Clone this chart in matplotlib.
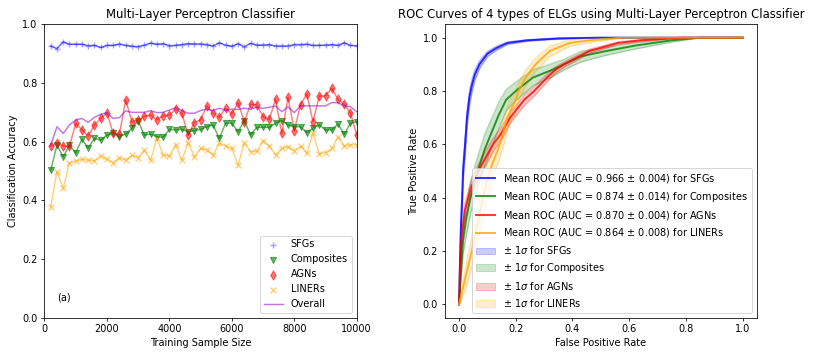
import numpy as np
import matplotlib
matplotlib.use('Agg')
import matplotlib.pyplot as plt

# training sample sizes
sizes = list(range(200, 10001, 200))

sfg_acc = [0.926, 0.917, 0.940, 0.932, 0.932, 0.932, 0.927, 0.928, 0.921, 0.928,
           0.928, 0.933, 0.928, 0.925, 0.924, 0.929, 0.936, 0.932, 0.934, 0.927,
           0.928, 0.931, 0.934, 0.933, 0.933, 0.931, 0.926, 0.937, 0.929, 0.925,
           0.934, 0.923, 0.935, 0.929, 0.929, 0.931, 0.926, 0.926, 0.926, 0.931,
           0.931, 0.932, 0.928, 0.928, 0.929, 0.931, 0.928, 0.937, 0.928, 0.927]
comp_acc = [0.503, 0.588, 0.549, 0.588, 0.562, 0.608, 0.579, 0.611, 0.605, 0.622,
            0.628, 0.617, 0.626, 0.645, 0.671, 0.622, 0.626, 0.617, 0.615, 0.642,
            0.640, 0.642, 0.634, 0.638, 0.642, 0.651, 0.657, 0.611, 0.663, 0.663,
            0.634, 0.672, 0.623, 0.649, 0.649, 0.649, 0.663, 0.672, 0.657, 0.651,
            0.651, 0.631, 0.646, 0.657, 0.640, 0.640, 0.660, 0.626, 0.663, 0.668]
agn_acc = [0.585, 0.594, 0.585, 0.585, 0.662, 0.640, 0.619, 0.657, 0.679, 0.699,
           0.628, 0.626, 0.742, 0.668, 0.674, 0.686, 0.691, 0.674, 0.688, 0.691,
           0.710, 0.697, 0.623, 0.665, 0.674, 0.722, 0.697, 0.683, 0.714, 0.694,
           0.733, 0.668, 0.728, 0.725, 0.685, 0.676, 0.744, 0.628, 0.751, 0.638,
           0.725, 0.763, 0.668, 0.756, 0.756, 0.782, 0.744, 0.728, 0.697, 0.623]
liner_acc = [0.378, 0.498, 0.441, 0.528, 0.534, 0.540, 0.537, 0.535, 0.551, 0.540,
             0.528, 0.546, 0.537, 0.554, 0.546, 0.571, 0.537, 0.611, 0.555, 0.551,
             0.589, 0.537, 0.597, 0.549, 0.577, 0.572, 0.555, 0.594, 0.585, 0.577,
             0.520, 0.597, 0.566, 0.568, 0.603, 0.585, 0.555, 0.577, 0.583, 0.569,
             0.585, 0.560, 0.628, 0.558, 0.563, 0.577, 0.615, 0.585, 0.589, 0.589]
overall_acc = [0.588, 0.651, 0.628, 0.657, 0.674, 0.679, 0.666, 0.683, 0.693, 0.699,
               0.679, 0.682, 0.705, 0.700, 0.700, 0.700, 0.706, 0.699, 0.700, 0.708,
               0.716, 0.706, 0.697, 0.697, 0.706, 0.711, 0.706, 0.714, 0.706, 0.711,
               0.710, 0.714, 0.711, 0.717, 0.714, 0.717, 0.722, 0.702, 0.719, 0.699,
               0.722, 0.722, 0.722, 0.722, 0.722, 0.733, 0.733, 0.722, 0.719, 0.702]

# mean ROC curves and 1 sigma spread
sfg_fpr = [0, 0.002, 0.005, 0.008, 0.011, 0.014, 0.02, 0.028, 0.037, 0.045,
           0.055, 0.072, 0.1, 0.13, 0.17, 0.24, 0.35, 0.5, 0.7, 1.0]
sfg_tpr = [0, 0.10, 0.24, 0.33, 0.40, 0.50, 0.58, 0.70, 0.78, 0.82,
           0.86, 0.90, 0.94, 0.96, 0.98, 0.99, 0.997, 1.0, 1.0, 1.0]
sfg_sd = [0, 0.03, 0.04, 0.04, 0.04, 0.04, 0.04, 0.035, 0.03, 0.025,
          0.02, 0.015, 0.01, 0.008, 0.005, 0.003, 0.002, 0, 0, 0]

comp_fpr = [0, 0.005, 0.014, 0.025, 0.04, 0.055, 0.072, 0.09, 0.113, 0.14, 0.166,
            0.2, 0.26, 0.33, 0.37, 0.43, 0.52, 0.62, 0.75, 0.85, 1.0]
comp_tpr = [0, 0.10, 0.24, 0.32, 0.40, 0.46, 0.52, 0.58, 0.64, 0.71, 0.767,
            0.80, 0.85, 0.88, 0.90, 0.93, 0.95, 0.97, 0.99, 1.0, 1.0]
comp_sd = [0, 0.03, 0.05, 0.06, 0.06, 0.06, 0.06, 0.06, 0.055, 0.05, 0.04,
           0.035, 0.03, 0.025, 0.02, 0.02, 0.015, 0.012, 0.006, 0, 0]

agn_fpr = [0, 0.003, 0.008, 0.02, 0.043, 0.078, 0.12, 0.148, 0.18, 0.23,
           0.265, 0.31, 0.34, 0.37, 0.46, 0.56, 0.64, 0.78, 1.0]
agn_tpr = [0, 0.12, 0.24, 0.35, 0.44, 0.52, 0.60, 0.64, 0.70, 0.767,
           0.80, 0.85, 0.88, 0.90, 0.95, 0.98, 0.99, 1.0, 1.0]
agn_sd = [0, 0.02, 0.03, 0.03, 0.03, 0.03, 0.025, 0.025, 0.02, 0.02,
          0.018, 0.015, 0.012, 0.01, 0.008, 0.005, 0.004, 0, 0]

liner_fpr = [0, 0.02, 0.045, 0.075, 0.095, 0.115, 0.137, 0.155, 0.17, 0.2,
             0.21, 0.235, 0.27, 0.32, 0.39, 0.46, 0.58, 1.0]
liner_tpr = [0, 0.09, 0.20, 0.35, 0.45, 0.52, 0.58, 0.64, 0.70, 0.767,
             0.80, 0.85, 0.90, 0.95, 0.98, 0.99, 1.0, 1.0]
liner_sd = [0, 0.04, 0.06, 0.07, 0.07, 0.06, 0.05, 0.05, 0.045, 0.04,
            0.035, 0.03, 0.025, 0.02, 0.012, 0.008, 0, 0]

classes = ['SFGs', 'Composites', 'AGNs', 'LINERs']
auc_mean = [0.966, 0.874, 0.870, 0.864]
auc_std = [0.004, 0.014, 0.004, 0.008]
roc_colors = ['blue', 'green', 'red', 'orange']

dpi = 70
fig = plt.figure(figsize=(830 / dpi, 356 / dpi), dpi=dpi)

# left panel: accuracy vs training size
ax = fig.add_axes([0.0536, 0.1076, 0.3762, 0.8241])
ax.plot(sizes, sfg_acc, color='blue', alpha=0.6)
ax.plot(sizes, comp_acc, color='green', alpha=0.6)
ax.plot(sizes, agn_acc, color='red', alpha=0.5)
ax.plot(sizes, liner_acc, color='orange', alpha=0.5)
l_all, = ax.plot(sizes, overall_acc, color='darkviolet', alpha=0.55, label='Overall')
s1 = ax.scatter(sizes, sfg_acc, marker='+', color='blue', alpha=0.35, s=40, label='SFGs')
s2 = ax.scatter(sizes, comp_acc, marker='v', color='green', alpha=0.6, s=40, label='Composites')
s3 = ax.scatter(sizes, agn_acc, marker='d', color='red', alpha=0.55, s=45, label='AGNs')
s4 = ax.scatter(sizes, liner_acc, marker='x', color='orange', alpha=0.5, s=35, label='LINERs')
ax.set_xlim(0, 10000)
ax.set_ylim(0, 1.0)
ax.set_xlabel('Training Sample Size')
ax.set_ylabel('Classification Accuracy')
ax.set_title('Multi-Layer Perceptron Classifier', fontsize=12)
ax.legend(handles=[s1, s2, s3, s4, l_all], loc='lower right')
ax.text(0.04, 0.06, '(a)', transform=ax.transAxes)

# right panel: ROC curves
ax2 = fig.add_axes([0.536, 0.1076, 0.3757, 0.8241])
fprs = [sfg_fpr, comp_fpr, agn_fpr, liner_fpr]
tprs = [sfg_tpr, comp_tpr, agn_tpr, liner_tpr]
sds = [sfg_sd, comp_sd, agn_sd, liner_sd]
for name, f, t, s, c, m, e in zip(classes, fprs, tprs, sds, roc_colors, auc_mean, auc_std):
    f = np.array(f)
    t = np.array(t)
    s = np.array(s)
    upper = np.minimum(t + s, 1)
    lower = np.maximum(t - s, 0)
    ax2.plot(f, t, color=c, lw=2, alpha=0.8,
             label=r'Mean ROC (AUC = %0.3f $\pm$ %0.3f) for %s' % (m, e, name))
    ax2.plot(f, upper, color=c, lw=0.8, alpha=0.25)
    ax2.plot(f, lower, color=c, lw=0.8, alpha=0.25)
for name, f, t, s, c in zip(classes, fprs, tprs, sds, roc_colors):
    t = np.array(t)
    s = np.array(s)
    ax2.fill_between(f, np.minimum(t + s, 1), np.maximum(t - s, 0), color=c, alpha=0.2,
                     label=r'$\pm$ 1$\sigma$ for %s' % name)
ax2.set_xlim(-0.05, 1.05)
ax2.set_ylim(-0.05, 1.05)
ax2.set_xlabel('False Positive Rate')
ax2.set_ylabel('True Positive Rate')
ax2.set_title('ROC Curves of 4 types of ELGs using Multi-Layer Perceptron Classifier', fontsize=12)
ax2.legend(loc='lower right')

fig.savefig('out.png', dpi=dpi)
